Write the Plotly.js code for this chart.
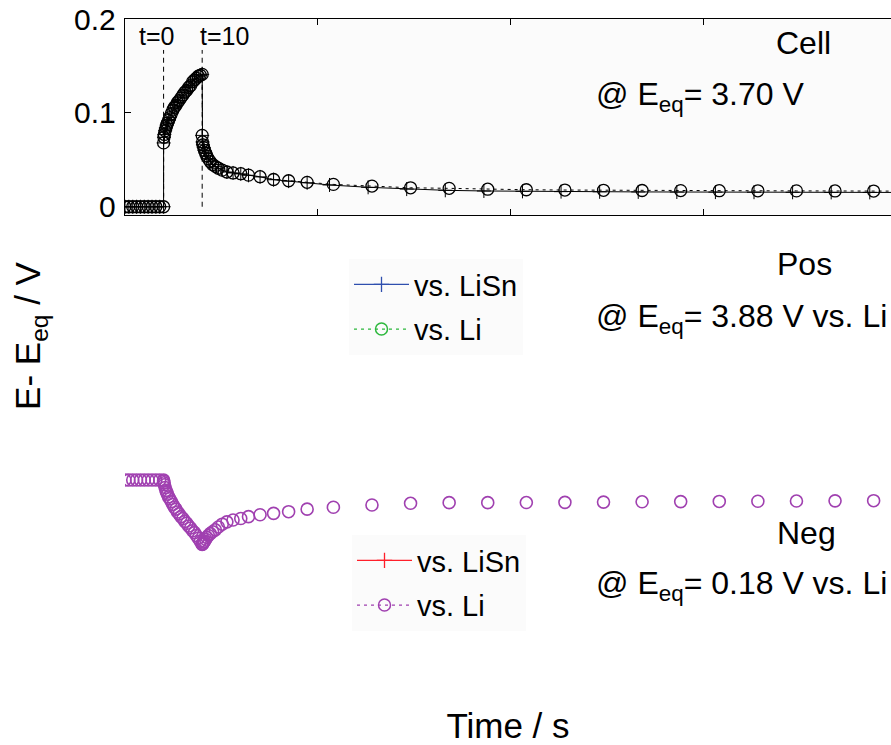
<!DOCTYPE html>
<html>
<head>
<meta charset="utf-8">
<script src="https://cdn.plot.ly/plotly-3.0.1.min.js"></script>
<style>html,body{margin:0;padding:0;background:#fff;}#chart{width:891px;height:745px;}</style>
</head>
<body>
<div id="chart"></div>
<script>
// ---------- DATA ----------
// Cell (E - Eeq, V) vs time (s)
const cellTime = [0,1,2,3,4,5,6,7,8,9,10,
  10,10.1,10.2,10.4,10.6,10.8,11.0,11.3,11.6,12.0,12.4,12.8,13.2,13.6,14.0,14.5,15.0,15.5,16.0,16.5,17.0,17.5,18.0,18.5,19.0,19.5,20.0,
  20.0,20.1,20.2,20.4,20.6,20.9,21.2,21.6,22.1,22.7,23.4,24.2,25.2,26.4,28.0,30.0,32.0,35.0,38.5,42.4,47.2,
  54,64,74,84,94,104,114,124,134,144,154,164,174,184,194,204];
const cellVsLi = [0,0,0,0,0,0,0,0,0,0,0,
  0.068,0.074,0.077,0.081,0.084,0.087,0.089,0.092,0.095,0.099,0.103,0.106,0.108,0.111,0.113,0.116,0.119,0.122,0.124,0.127,0.129,0.133,0.135,0.137,0.139,0.140,0.141,
  0.076,0.069,0.066,0.063,0.060,0.057,0.054,0.051,0.048,0.045,0.043,0.041,0.039,0.037,0.036,0.0352,0.0337,0.032,0.029,0.0277,0.026,
  0.0238,0.022,0.0202,0.0196,0.0187,0.0181,0.0178,0.0175,0.0173,0.0172,0.0171,0.0170,0.0169,0.0168,0.0167,0.0166];
const cellLiSnTime = [0,1,2,3,4,5,6,7,8,9,10,
  10,10.1,10.2,10.4,10.6,10.8,11.0,11.3,11.6,12.0,12.4,12.8,13.2,13.6,14.0,14.5,15.0,15.5,16.0,16.5,17.0,17.5,18.0,18.5,19.0,19.5,20.0,
  20.0,20.1,20.2,20.4,20.6,20.9,21.2,21.6,22.1,22.7,23.4,24.2,25.2,26.4,28.0,30.0,32.0,35.0,38.5,42.4,47.2,
  53,63,73,83,93,103,113,123,133,143,153,163,173,183,193,203];
const cellVsLiSn = [0,0,0,0,0,0,0,0,0,0,0,
  0.068,0.074,0.077,0.081,0.084,0.087,0.089,0.092,0.095,0.099,0.103,0.106,0.108,0.111,0.113,0.116,0.119,0.122,0.124,0.127,0.129,0.133,0.135,0.137,0.139,0.140,0.141,
  0.076,0.069,0.066,0.063,0.060,0.057,0.054,0.051,0.048,0.045,0.043,0.041,0.039,0.037,0.036,0.0350,0.0335,0.0318,0.0288,0.0273,0.0255,
  0.0232,0.0207,0.0188,0.0175,0.0168,0.0164,0.0161,0.0159,0.0158,0.0157,0.0156,0.0155,0.0154,0.0153,0.0153,0.0152];

// Positive electrode: no data points visible in the reference
const posTime = [null];
const posVsLiSn = [null];
const posVsLi = [null];

// Negative electrode (E - Eeq, V) vs Li
const negTime = [0,1,2,3,4,5,6,7,8,9,10,
  10,10.1,10.2,10.4,10.6,10.8,11.0,11.3,11.6,12.0,12.4,12.8,13.2,13.6,14.0,14.5,15.0,15.5,16.0,16.5,17.0,17.5,18.0,18.5,19.0,19.5,20.0,
  20.0,20.1,20.2,20.4,20.6,20.9,21.2,21.6,22.1,22.7,23.4,24.2,25.2,26.4,28.0,30.0,32.0,35.0,38.5,42.4,47.2,
  54,64,74,84,94,104,114,124,134,144,154,164,174,184,194,204];
const negVsLi = [0,0,0,0,0,0,0,0,0,0,0,
  -0.001,-0.003,-0.005,-0.008,-0.011,-0.013,-0.015,-0.018,-0.020,-0.023,-0.026,-0.029,-0.031,-0.034,-0.036,-0.039,-0.041,-0.044,-0.046,-0.049,-0.051,-0.054,-0.056,-0.059,-0.062,-0.065,-0.068,
  -0.0685,-0.068,-0.067,-0.066,-0.065,-0.063,-0.061,-0.059,-0.057,-0.055,-0.053,-0.050,-0.047,-0.0445,-0.0425,-0.041,-0.039,-0.037,-0.0355,-0.0337,-0.031,
  -0.029,-0.0266,-0.0248,-0.0241,-0.0241,-0.0240,-0.0238,-0.0235,-0.0232,-0.0230,-0.0228,-0.0226,-0.0224,-0.0222,-0.0220,-0.0220];
const negLiSnTime = [null];
const negVsLiSn = [null];

// Tick values / labels
const yTickVals = [0, 0.1, 0.2];
const yTickText = ['0', '0.1', '0.2'];
const xTickVals = [0, 50, 100, 150, 200];

// ---------- STYLE ----------
const FONT = 'Liberation Sans, Arial, Helvetica, sans-serif';
const W = 891, H = 745, ML = 125;
const px = v => (v - ML) / (W - ML);   // paper coords are relative to the plot area
const py = v => 1 - v / H;

const traces = [
  {x: cellLiSnTime, y: cellVsLiSn, xaxis: 'x', yaxis: 'y', mode: 'lines+markers', name: 'vs. LiSn', showlegend: false,
   line: {color: '#000', width: 1}, marker: {symbol: 'cross-thin-open', size: 10, color: '#000', line: {color: '#000', width: 1}}},
  {x: cellTime, y: cellVsLi, xaxis: 'x', yaxis: 'y', mode: 'lines+markers', name: 'vs. Li', showlegend: false,
   line: {color: '#000', width: 1, dash: '3px,4px'}, marker: {symbol: 'circle-open', size: 12, color: '#000', line: {color: '#000', width: 1.3}}},

  {x: posTime, y: posVsLiSn, xaxis: 'x', yaxis: 'y2', mode: 'lines+markers', name: 'vs. LiSn', legend: 'legend', legendgroup: 'p1',
   line: {color: '#2f4fae', width: 1.3}, marker: {symbol: 'cross-thin-open', size: 11, color: '#2f4fae', line: {color: '#2f4fae', width: 1.3}}},
  {x: posTime, y: posVsLi, xaxis: 'x', yaxis: 'y2', mode: 'lines+markers', name: 'vs. Li', legend: 'legend', legendgroup: 'p2',
   line: {color: '#2db83d', width: 1.3, dash: '3px,4px'}, marker: {symbol: 'circle-open', size: 12, color: '#2db83d', line: {color: '#2db83d', width: 1.5}}},

  {x: negLiSnTime, y: negVsLiSn, xaxis: 'x3', yaxis: 'y3', mode: 'lines+markers', name: 'vs. LiSn', legend: 'legend2', legendgroup: 'n1',
   line: {color: '#ff1f2a', width: 1.3}, marker: {symbol: 'cross-thin-open', size: 11, color: '#ff1f2a', line: {color: '#ff1f2a', width: 1.3}}},
  {x: negTime, y: negVsLi, xaxis: 'x3', yaxis: 'y3', mode: 'markers', name: 'vs. Li', showlegend: false,
   marker: {symbol: 'circle-open', size: 12, color: '#a040b0', line: {color: '#a040b0', width: 1.6}}},
  {x: [null], y: [null], xaxis: 'x3', yaxis: 'y3', mode: 'lines+markers', name: 'vs. Li', legend: 'legend2', legendgroup: 'n2',
   line: {color: '#a040b0', width: 1.3, dash: '3px,4px'}, marker: {symbol: 'circle-open', size: 12, color: '#a040b0', line: {color: '#a040b0', width: 1.5}}}
];

const legendCommon = {
  xanchor: 'left', yanchor: 'top', bgcolor: '#fbfbfb', borderwidth: 0,
  font: {family: FONT, size: 29, color: '#000'}, itemwidth: 55,
  traceorder: 'grouped', tracegroupgap: 4
};

const annFont = {family: FONT, size: 32, color: '#000'};
const annotations = [
  {xref: 'paper', yref: 'paper', x: px(774), y: py(43), xanchor: 'left', yanchor: 'middle', text: 'Cell', showarrow: false, font: annFont},
  {xref: 'paper', yref: 'paper', x: px(594), y: py(97), xanchor: 'left', yanchor: 'middle', text: '@ E<sub>eq</sub>= 3.70 V', showarrow: false, font: annFont},
  {xref: 'paper', yref: 'paper', x: px(775), y: py(264), xanchor: 'left', yanchor: 'middle', text: 'Pos', showarrow: false, font: annFont},
  {xref: 'paper', yref: 'paper', x: px(594), y: py(318), xanchor: 'left', yanchor: 'middle', text: '@ E<sub>eq</sub>= 3.88 V vs. Li', showarrow: false, font: annFont},
  {xref: 'paper', yref: 'paper', x: px(775), y: py(533), xanchor: 'left', yanchor: 'middle', text: 'Neg', showarrow: false, font: annFont},
  {xref: 'paper', yref: 'paper', x: px(594), y: py(585), xanchor: 'left', yanchor: 'middle', text: '@ E<sub>eq</sub>= 0.18 V vs. Li', showarrow: false, font: annFont},
  {xref: 'x', yref: 'y', x: 3, y: 0.1816, xanchor: 'left', yanchor: 'middle', text: 't=0', showarrow: false, font: {family: FONT, size: 25, color: '#000'}},
  {xref: 'x', yref: 'y', x: 19, y: 0.1816, xanchor: 'left', yanchor: 'middle', text: 't=10', showarrow: false, font: {family: FONT, size: 25, color: '#000'}}
];

const shapes = [
  {type: 'rect', xref: 'x domain', yref: 'y domain', x0: 0, x1: 1, y0: 0, y1: 1, fillcolor: '#fbfbfb', line: {width: 0}, layer: 'below'},
  {type: 'line', xref: 'x', yref: 'y', x0: 10, x1: 10, y0: 0, y1: 0.167, line: {color: '#000', width: 1, dash: '5px,4px'}, layer: 'below'},
  {type: 'line', xref: 'x', yref: 'y', x0: 20, x1: 20, y0: 0, y1: 0.167, line: {color: '#000', width: 1, dash: '5px,4px'}, layer: 'below'}
];

const layout = {
  width: W, height: H,
  margin: {l: ML, r: 0, t: 0, b: 0},
  paper_bgcolor: '#fff', plot_bgcolor: 'rgba(0,0,0,0)',
  font: {family: FONT, color: '#000'},
  xaxis: {domain: [0, 1], anchor: 'y', range: [0, 198.5], tickvals: xTickVals, showticklabels: false,
    ticks: 'inside', ticklen: 6, tickcolor: '#000', showline: true, linecolor: '#000', linewidth: 1.3, mirror: 'ticks',
    showgrid: false, zeroline: false},
  yaxis: {domain: [py(215), py(19)], anchor: 'x', range: [-0.0088, 0.2], tickvals: yTickVals, ticktext: yTickText,
    ticks: 'inside', ticklen: 6, tickcolor: '#000', showline: true, linecolor: '#000', linewidth: 1.3, mirror: false,
    showgrid: false, zeroline: false, tickfont: {family: FONT, size: 30, color: '#000'}, ticklabelstandoff: 2},
  yaxis2: {domain: [py(445), py(227)], anchor: 'x', range: [0, 1], showline: false, showticklabels: false, ticks: '',
    showgrid: false, zeroline: false,
    title: {text: 'E- E<sub>eq</sub> / V', font: {family: FONT, size: 35, color: '#000'}, standoff: 72}},
  yaxis3: {domain: [py(660), py(460)], anchor: 'x3', range: [-0.19149, 0.02128], showline: false, showticklabels: false, ticks: '',
    showgrid: false, zeroline: false},
  xaxis3: {domain: [0, 1], anchor: 'y3', matches: 'x', showline: false, showticklabels: false, ticks: '', showgrid: false, zeroline: false,
    title: {text: 'Time / s', font: {family: FONT, size: 35, color: '#000'}, standoff: 55}},
  legend: Object.assign({x: px(349), y: py(259)}, legendCommon),
  legend2: Object.assign({x: px(352), y: py(535)}, legendCommon),
  annotations: annotations,
  shapes: shapes,
  showlegend: true
};

Plotly.newPlot('chart', traces, layout, {displayModeBar: false, staticPlot: true});
</script>
</body>
</html>
